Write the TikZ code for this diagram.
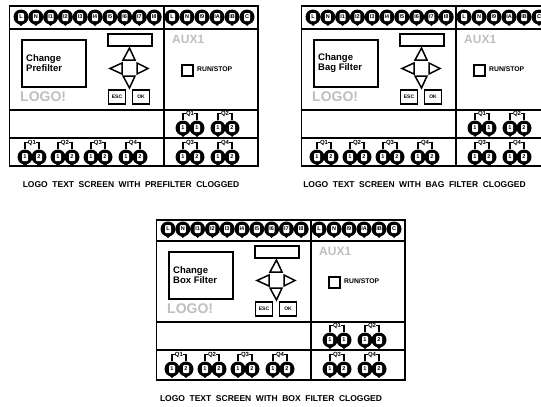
\documentclass[tikz,border=0pt]{standalone}
\usepackage{fontspec}
\setmainfont{Liberation Sans}
\tikzset{
    frameline/.style={draw=black, line width=1.8pt},
    thinbox/.style={draw=black, line width=1.5pt},
    termblob/.style={circle, fill=black, minimum size=15pt, inner sep=0pt},
    termtext/.style={fill=white, rounded corners=1pt, inner sep=0pt, minimum width=6pt, minimum height=8pt, font=\fontsize{5.5}{5.5}\selectfont\bfseries},
    qlabel/.style={inner sep=0pt, font=\fontsize{6}{6}\selectfont\bfseries},
    keylabel/.style={thinbox, minimum width=17pt, minimum height=14pt, inner sep=0pt, font=\fontsize{5}{5}\selectfont\bfseries},
    capt/.style={inner sep=0pt, font=\fontsize{8.5}{9}\selectfont\bfseries, execute at begin node={\spaceskip=4.6pt\relax}},
    grayname/.style={inner sep=0pt, text=gray!50},
}
% one terminal: x, y, name, text
\newcommand{\termtop}[4]{
    \node[termblob] (#3) at (#1,#2) {};
    \fill (#1-3,#2+6) -- (#1,#2+9) -- (#1+3,#2+6) -- cycle;
    \node[termtext] (#3t) at (#1,#2) {#4};
}
% two terminals with their label: x, y, name, label, left text, right text
\newcommand{\termpair}[6]{
    \termtop{#1-7}{#2}{#3a}{#5}
    \termtop{#1+7}{#2}{#3b}{#6}
    \node[qlabel] (#3q) at (#1,#2-14.5) {#4};
    \draw[line width=1.4pt] (#3a.north) |- (#3q.west);
    \draw[line width=1.4pt] (#3b.north) |- (#3q.east);
}
% whole panel: x shift, y shift, frame top, frame bottom, screen text, top row, aux row, line spacing
\newcommand{\logopanel}[8]{
\begin{scope}[shift={(#1,#2)}]
    \draw[frameline] (9.5,#3) rectangle (258,#4);
    \draw[frameline] (164,#3) -- (164,#4);
    \draw[frameline] (9.5,29) -- (258,29);
    \draw[frameline] (9.5,110) -- (258,110);
    \draw[frameline] (9.5,138) -- (258,138);
    \draw[thinbox] (22,40) rectangle (86,87);
    \draw[thinbox] (108,34) rectangle (152,46);
    \draw[thinbox] (123,60) -- (135,60) -- (129.5,48) -- cycle;
    \draw[thinbox] (123,76) -- (135,76) -- (129.5,88) -- cycle;
    \draw[thinbox] (122,63) -- (122,74) -- (110,68.5) -- cycle;
    \draw[thinbox] (137,63) -- (137,74) -- (148,68.5) -- cycle;
    \node[keylabel] (esc) at (117,97) {ESC};
    \node[keylabel] (ok) at (141,97) {OK};
    \node[inner sep=0pt, align=left, anchor=west, font=\fontsize{9.5}{#8}\selectfont\bfseries] (screen) at (26,63) {Change\\#5};
    \node[grayname, anchor=west, font=\fontsize{14}{14}\selectfont\bfseries] (logo) at (20,97) {LOGO!};
    \node[grayname, anchor=west, font=\fontsize{12}{12}\selectfont\bfseries] (aux) at (172,39) {AUX1};
    \draw[thinbox] (182,65) rectangle (193,76);
    \node[qlabel, anchor=west, font=\fontsize{6.8}{7}\selectfont\bfseries] (run) at (197,69) {RUN/STOP};
    \foreach \t [count=\i from 0] in {#6}
        {\termtop{21+14.8*\i}{17}{ta\i}{\t}}
    \foreach \t [count=\i from 0] in {#7}
        {\termtop{172+15*\i}{17}{tb\i}{\t}}
    \termpair{190}{128}{aq}{Q1}{1}{1}
    \termpair{225}{128}{bq}{Q2}{1}{2}
    \termpair{32}{157}{ca}{Q1}{1}{2}
    \termpair{65}{157}{cb}{Q2}{1}{2}
    \termpair{98}{157}{cc}{Q3}{1}{2}
    \termpair{133}{157}{cd}{Q4}{1}{2}
    \termpair{190}{157}{ce}{Q3}{1}{2}
    \termpair{225}{157}{cf}{Q4}{1}{2}
\end{scope}
}
\begin{document}
\begin{tikzpicture}[x=1pt, y=-1pt]
    \clip (0,0) rectangle (541,407);
    \fill[white] (0,0) rectangle (541,407);
    \logopanel{0}{0}{6}{166}{Prefilter}{L,N,I1,I2,I3,I4,I5,I6,I7,I8}{L,N,I9,IA,IB,C}{10}
    \logopanel{292}{0}{6}{166}{Bag Filter}{L,N,I1,I2,I3,I4,I5,I6,I7,I8}{L,N,I9,IA,IB,C}{10}
    \logopanel{147}{212}{8}{168}{Box Filter}{L,N,I1,I2,I3,I4,I5,I6,I7,I8}{L,N,I9,IA,IB,C}{8}
    \node[capt] (capt1) at (131,185) {LOGO TEXT SCREEN WITH PREFILTER CLOGGED};
    \node[capt] (capt2) at (414.5,185) {LOGO TEXT SCREEN WITH BAG FILTER CLOGGED};
    \node[capt] (capt3) at (271,399) {LOGO TEXT SCREEN WITH BOX FILTER CLOGGED};
\end{tikzpicture}
\end{document}
